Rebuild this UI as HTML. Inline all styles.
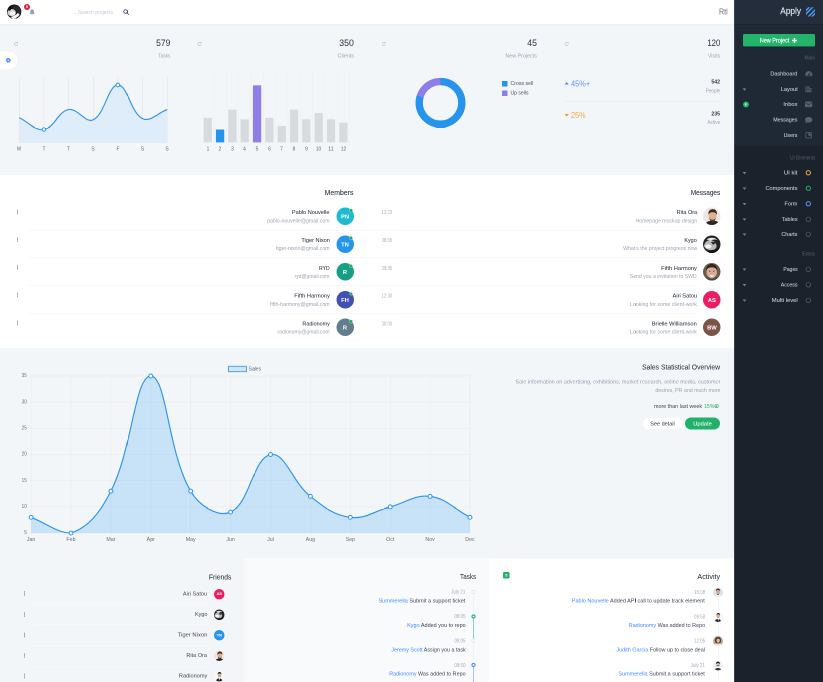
<!DOCTYPE html>
<html lang="en"><head><meta charset="utf-8"><title>Apply - Dashboard</title>
<style>
html,body{margin:0;padding:0;background:#f3f6f9;}
body{width:823px;height:682px;overflow:hidden;font-family:"Liberation Sans",sans-serif;}
#wrap{position:absolute;left:0;top:0;width:1646px;height:1364px;transform:scale(.5);transform-origin:0 0;overflow:hidden;will-change:transform;}
.b{position:absolute;display:block;box-sizing:border-box;}
.t{position:absolute;white-space:nowrap;display:block;}
.t b{font-weight:400;color:#448bff;}
</style></head>
<body><div id="wrap">
<div class="b " style="left:0px;top:0px;width:1468px;height:1364px;background:#f3f6f9;"></div>
<div class="b " style="left:0px;top:350px;width:1468px;height:347px;background:#fff;box-shadow:0 .5px 1px rgba(60,80,110,.05);"></div>
<div class="b " style="left:490px;top:1117px;width:488px;height:260px;background:#f9fafc;border-top:3px solid #fdfdfe;"></div>
<div class="b " style="left:978px;top:1117px;width:490px;height:260px;background:#fff;"></div>
<div class="b " style="left:0px;top:0px;width:1468px;height:48px;background:#fff;box-shadow:0 .5px 1.5px rgba(60,80,110,.10);"></div>
<div class="b " style="left:1468px;top:0px;width:178px;height:1364px;background:#1b222c;"></div>
<div class="b " style="left:1468px;top:0px;width:178px;height:291.20px;background:#1f2835;"></div>
<div class="b " style="left:1468px;top:0px;width:178px;height:48px;background:#232d3c;box-shadow:0 1px 2px rgba(0,0,0,.22);"></div>
<div class="b " style="left:1468px;top:0px;width:2px;height:1364px;background:rgba(255,255,255,.13);"></div>
<svg class="b" style="left:13.80px;top:8.60px;width:28.80px;height:28.80px;" viewBox="0 0 20 20">
<defs><clipPath id="hc"><circle cx="10" cy="10" r="10"/></clipPath></defs>
<g clip-path="url(#hc)"><rect width="20" height="20" fill="#1f1f21"/>
<ellipse cx="6.500" cy="11.200" rx="5.800" ry="5" fill="#cfcfcf"/>
<ellipse cx="7.800" cy="12.500" rx="3.800" ry="2.600" fill="#fafafa"/>
<ellipse cx="4.300" cy="5.200" rx="1.900" ry="3.600" transform="rotate(28 4.300 5.200)" fill="#101010"/>
<path d="M5 17.500C9 16 13.500 14.500 15 11.500L17.500 14C15.500 17.500 11 19.800 8 19.500Z" fill="#f4f4f4"/>
<path d="M9 4C12 2 16 3 18 7C19 10 18 12 17 13C16 9 13 6 9 6Z" fill="#2d2d2f"/>
</g></svg>
<div class="b " style="left:47.80px;top:8px;width:12px;height:12px;background:#e8203f;border-radius:6px;"></div>
<span class="t " id="t1" style="top:9.06px;font-size:7.60px;line-height:9.88px;color:#fff;font-weight:700;left:53.80px;transform:translateX(-50%) scaleX(1.0000);">5</span>
<svg class="b" style="left:58px;top:16.80px;width:12.40px;height:14px;" viewBox="0 0 16 18"><path d="M8 1.2c-.7 0-1.2.5-1.2 1.2v.4C4.6 3.4 3.2 5.3 3.2 7.6v3L1.6 12.8v.9h12.8v-.9L12.8 10.6v-3c0-2.3-1.4-4.2-3.6-4.8v-.4c0-.7-.5-1.2-1.2-1.2zM6.4 14.6c0 .9.7 1.6 1.6 1.6s1.6-.7 1.6-1.6z" fill="#8f9fb4"/></svg>
<span class="t " id="t2" style="top:17.12px;font-size:11.20px;line-height:14.56px;color:#c3c9d4;left:146.80px;transform-origin:0 50%;transform:scaleX(0.9097);">...Search projects</span>
<svg class="b" style="left:246.20px;top:17.80px;width:12.40px;height:12.40px;" viewBox="0 0 16 16"><circle cx="6.5" cy="6.5" r="4.6" fill="none" stroke="#435069" stroke-width="2.200"/><path d="M10.200 10.200 L14.600 14.600" stroke="#46556f" stroke-width="2.300" stroke-linecap="round"/></svg>
<span class="t " id="t3" style="top:12.68px;font-size:16.80px;line-height:21.84px;color:#69737f;left:1437.60px;transform-origin:0 50%;transform:scaleX(0.8481);">Rtl</span>
<span class="t " id="t4" style="top:11.16px;font-size:17.60px;line-height:22.88px;color:#dde3ec;-webkit-text-stroke:0.30px #dde3ec;right:44.20px;transform-origin:100% 50%;transform:scaleX(0.9406);">Apply</span>
<svg class="b" style="left:1611.80px;top:13.60px;width:18.60px;height:19.40px;" viewBox="0 0 20 20"><defs><clipPath id="lg"><rect width="20" height="20"/></clipPath></defs>
<g clip-path="url(#lg)" stroke="#4c9bf5" stroke-width="3.1"><path d="M-2 9 L9 -2"/><path d="M-2 16.5 L16.5 -2"/><path d="M3.5 22 L22 3.5"/><path d="M11 22 L22 11"/></g></svg>
<div class="b " style="left:1485.60px;top:67.60px;width:144.20px;height:25.20px;background:#23b36b;border-radius:2.80px;box-shadow:0 1px 1.5px rgba(0,0,0,.35);"></div>
<span class="t " id="t5" style="top:74.27px;font-size:12.20px;line-height:15.86px;color:#fff;-webkit-text-stroke:0.28px #fff;right:67.60px;transform-origin:100% 50%;transform:scaleX(0.9010);">New Project</span>
<svg class="b" style="left:1584.40px;top:76.20px;width:9.80px;height:9.80px;" viewBox="0 0 12.2 12"><path d="M4.200 0h3.800v4.200H12.200v3.800H8V12.200H4.200V8H0V4.200h4.200z" fill="#fff"/></svg>
<span class="t " id="t6" style="top:108.77px;font-size:10.20px;line-height:13.26px;color:#556071;right:16px;transform-origin:100% 50%;transform:scaleX(0.9595);">Main</span>
<span class="t " id="t7" style="top:139.73px;font-size:11.80px;line-height:15.34px;color:#c6cdd8;-webkit-text-stroke:0.16px #c6cdd8;right:51px;transform-origin:100% 50%;transform:scaleX(0.9356);">Dashboard</span>
<span class="t " id="t8" style="top:170.73px;font-size:11.80px;line-height:15.34px;color:#c6cdd8;-webkit-text-stroke:0.16px #c6cdd8;right:51px;transform-origin:100% 50%;transform:scaleX(0.9599);">Layout</span>
<svg class="b" style="left:1484.60px;top:176.60px;width:8px;height:4.60px;" viewBox="0 0 10 6"><path d="M0 0h10L5 5.800z" fill="#768192"/></svg>
<span class="t " id="t9" style="top:201.33px;font-size:11.80px;line-height:15.34px;color:#c6cdd8;-webkit-text-stroke:0.16px #c6cdd8;right:51px;transform-origin:100% 50%;transform:scaleX(0.9702);">Inbox</span>
<span class="t " id="t10" style="top:232.33px;font-size:11.80px;line-height:15.34px;color:#c6cdd8;-webkit-text-stroke:0.16px #c6cdd8;right:51px;transform-origin:100% 50%;transform:scaleX(0.8999);">Messages</span>
<span class="t " id="t11" style="top:263.13px;font-size:11.80px;line-height:15.34px;color:#c6cdd8;-webkit-text-stroke:0.16px #c6cdd8;right:51px;transform-origin:100% 50%;transform:scaleX(0.8957);">Users</span>
<svg class="b" style="left:1610px;top:141.20px;width:15.20px;height:12.40px;" viewBox="0 0 20 16.5"><path d="M10 1.5C4.8 1.5.6 5.7.6 10.9c0 1.6.4 3.1 1.1 4.4h16.6c.7-1.3 1.1-2.8 1.1-4.4C19.400 5.700 15.200 1.500 10 1.500z" fill="#566173"/><circle cx="10" cy="11" r="2.2" fill="#1f2835"/><path d="M10 11 L14 5" stroke="#1f2835" stroke-width="1.6"/><rect x="3" y="13.8" width="14" height="1.2" fill="#1f2835"/></svg>
<svg class="b" style="left:1610.80px;top:172.20px;width:13.60px;height:12.40px;" viewBox="0 0 18 16"><path d="M0 0h2.2v16H0zM3.6 1h8v3h-8zM3.600 6h14v3h-14zM3.6 11h10.500v3H3.6zM0 14.500h18v1.500H0z" fill="#566173"/></svg>
<svg class="b" style="left:1610.40px;top:203.40px;width:14.40px;height:11.20px;" viewBox="0 0 18 14"><rect width="18" height="14" rx="1.6" fill="#566173"/><path d="M1 2 L9 8.600 L17 2" fill="none" stroke="#1f2835" stroke-width="1.5"/></svg>
<svg class="b" style="left:1610.40px;top:234px;width:14.80px;height:12.40px;" viewBox="0 0 18 15"><path d="M9 0C4 0 0 2.9 0 6.500c0 1.600.8 3 2.100 4.100C1.800 12.200.900 13.600 0 14.500c2.200 0 4-.700 5.300-1.600 1.100.300 2.400.500 3.700.500 5 0 9-2.900 9-6.500S14 0 9 0z" fill="#566173"/></svg>
<svg class="b" style="left:1611.20px;top:264.40px;width:12.80px;height:12.80px;" viewBox="0 0 16 16"><rect x=".9" y=".9" width="14.2" height="14.2" rx="2.4" fill="none" stroke="#566173" stroke-width="1.800"/><path d="M6 3.500h5.500c.9 0 1.500.6 1.500 1.500v5.500c-3.900 0-7-3.100-7-7z" fill="#566173"/></svg>
<div class="b " style="left:1485.60px;top:203px;width:12px;height:12px;background:#22b16a;border-radius:6px;"></div>
<span class="t " id="t12" style="top:204.32px;font-size:7.20px;line-height:9.36px;color:#fff;font-weight:700;left:1491.60px;transform:translateX(-50%) scaleX(1.0000);">6</span>
<span class="t " id="t13" style="top:309.17px;font-size:10.20px;line-height:13.26px;color:#556071;right:16px;transform-origin:100% 50%;transform:scaleX(0.9012);">UI Elements</span>
<span class="t " id="t14" style="top:338.33px;font-size:11.80px;line-height:15.34px;color:#c6cdd8;-webkit-text-stroke:0.16px #c6cdd8;right:51px;transform-origin:100% 50%;transform:scaleX(1.0121);">UI kit</span>
<svg class="b" style="left:1484.60px;top:344.20px;width:8px;height:4.60px;" viewBox="0 0 10 6"><path d="M0 0h10L5 5.800z" fill="#768192"/></svg>
<svg class="b" style="left:1610.40px;top:339.40px;width:13.20px;height:13.20px;" viewBox="0 0 10 10"><circle cx="5" cy="5" r="3.25" fill="none" stroke="#f3ae2d" stroke-width="1.5"/></svg>
<span class="t " id="t15" style="top:369.33px;font-size:11.80px;line-height:15.34px;color:#c6cdd8;-webkit-text-stroke:0.16px #c6cdd8;right:51px;transform-origin:100% 50%;transform:scaleX(0.9568);">Components</span>
<svg class="b" style="left:1484.60px;top:375.20px;width:8px;height:4.60px;" viewBox="0 0 10 6"><path d="M0 0h10L5 5.800z" fill="#768192"/></svg>
<svg class="b" style="left:1610.40px;top:370.40px;width:13.20px;height:13.20px;" viewBox="0 0 10 10"><circle cx="5" cy="5" r="3.25" fill="none" stroke="#22b16a" stroke-width="1.5"/></svg>
<span class="t " id="t16" style="top:400.13px;font-size:11.80px;line-height:15.34px;color:#c6cdd8;-webkit-text-stroke:0.16px #c6cdd8;right:51px;transform-origin:100% 50%;transform:scaleX(0.9299);">Form</span>
<svg class="b" style="left:1484.60px;top:406px;width:8px;height:4.60px;" viewBox="0 0 10 6"><path d="M0 0h10L5 5.800z" fill="#768192"/></svg>
<svg class="b" style="left:1610.40px;top:401.20px;width:13.20px;height:13.20px;" viewBox="0 0 10 10"><circle cx="5" cy="5" r="3.25" fill="none" stroke="#5a9cf8" stroke-width="1.5"/></svg>
<span class="t " id="t17" style="top:430.73px;font-size:11.80px;line-height:15.34px;color:#c6cdd8;-webkit-text-stroke:0.16px #c6cdd8;right:51px;transform-origin:100% 50%;transform:scaleX(0.9264);">Tables</span>
<svg class="b" style="left:1484.60px;top:436.60px;width:8px;height:4.60px;" viewBox="0 0 10 6"><path d="M0 0h10L5 5.800z" fill="#768192"/></svg>
<svg class="b" style="left:1610.40px;top:431.80px;width:13.20px;height:13.20px;" viewBox="0 0 10 10"><circle cx="5" cy="5" r="3.4" fill="none" stroke="#586273" stroke-width="1.1"/></svg>
<span class="t " id="t18" style="top:461.33px;font-size:11.80px;line-height:15.34px;color:#c6cdd8;-webkit-text-stroke:0.16px #c6cdd8;right:51px;transform-origin:100% 50%;transform:scaleX(0.9209);">Charts</span>
<svg class="b" style="left:1484.60px;top:467.20px;width:8px;height:4.60px;" viewBox="0 0 10 6"><path d="M0 0h10L5 5.800z" fill="#768192"/></svg>
<svg class="b" style="left:1610.40px;top:462.40px;width:13.20px;height:13.20px;" viewBox="0 0 10 10"><circle cx="5" cy="5" r="3.4" fill="none" stroke="#586273" stroke-width="1.1"/></svg>
<span class="t " id="t19" style="top:501.37px;font-size:10.20px;line-height:13.26px;color:#556071;right:16px;transform-origin:100% 50%;transform:scaleX(0.8727);">Extras</span>
<span class="t " id="t20" style="top:530.93px;font-size:11.80px;line-height:15.34px;color:#c6cdd8;-webkit-text-stroke:0.16px #c6cdd8;right:51px;transform-origin:100% 50%;transform:scaleX(0.8609);">Pages</span>
<svg class="b" style="left:1484.60px;top:536.80px;width:8px;height:4.60px;" viewBox="0 0 10 6"><path d="M0 0h10L5 5.800z" fill="#768192"/></svg>
<svg class="b" style="left:1610.40px;top:532px;width:13.20px;height:13.20px;" viewBox="0 0 10 10"><circle cx="5" cy="5" r="3.4" fill="none" stroke="#586273" stroke-width="1.1"/></svg>
<span class="t " id="t21" style="top:562.13px;font-size:11.80px;line-height:15.34px;color:#c6cdd8;-webkit-text-stroke:0.16px #c6cdd8;right:51px;transform-origin:100% 50%;transform:scaleX(0.8835);">Access</span>
<svg class="b" style="left:1484.60px;top:568px;width:8px;height:4.60px;" viewBox="0 0 10 6"><path d="M0 0h10L5 5.800z" fill="#768192"/></svg>
<svg class="b" style="left:1610.40px;top:563.20px;width:13.20px;height:13.20px;" viewBox="0 0 10 10"><circle cx="5" cy="5" r="3.4" fill="none" stroke="#586273" stroke-width="1.1"/></svg>
<span class="t " id="t22" style="top:592.73px;font-size:11.80px;line-height:15.34px;color:#c6cdd8;-webkit-text-stroke:0.16px #c6cdd8;right:51px;transform-origin:100% 50%;transform:scaleX(0.9914);">Multi level</span>
<svg class="b" style="left:1484.60px;top:598.60px;width:8px;height:4.60px;" viewBox="0 0 10 6"><path d="M0 0h10L5 5.800z" fill="#768192"/></svg>
<svg class="b" style="left:1610.40px;top:593.80px;width:13.20px;height:13.20px;" viewBox="0 0 10 10"><circle cx="5" cy="5" r="3.4" fill="none" stroke="#586273" stroke-width="1.1"/></svg>
<svg class="b" style="left:27.10px;top:83.10px;width:9.80px;height:9.80px;" viewBox="0 0 16 16"><path d="M13.200 5.200A5.600 5.600 0 1 0 14 10" fill="none" stroke="#9aa3b0" stroke-width="1.500"/><path d="M10.200 5.800h4.300V1.500z" fill="#9aa3b0"/></svg>
<svg class="b" style="left:393.50px;top:83.10px;width:9.80px;height:9.80px;" viewBox="0 0 16 16"><path d="M13.200 5.200A5.600 5.600 0 1 0 14 10" fill="none" stroke="#9aa3b0" stroke-width="1.500"/><path d="M10.200 5.800h4.300V1.500z" fill="#9aa3b0"/></svg>
<svg class="b" style="left:761.50px;top:83.10px;width:9.80px;height:9.80px;" viewBox="0 0 16 16"><path d="M13.200 5.200A5.600 5.600 0 1 0 14 10" fill="none" stroke="#9aa3b0" stroke-width="1.500"/><path d="M10.200 5.800h4.300V1.500z" fill="#9aa3b0"/></svg>
<svg class="b" style="left:1128.30px;top:83.10px;width:9.80px;height:9.80px;" viewBox="0 0 16 16"><path d="M13.200 5.200A5.600 5.600 0 1 0 14 10" fill="none" stroke="#9aa3b0" stroke-width="1.500"/><path d="M10.200 5.800h4.300V1.500z" fill="#9aa3b0"/></svg>
<span class="t " id="t23" style="top:74.93px;font-size:17.80px;line-height:23.14px;color:#333b48;-webkit-text-stroke:0.08px #333b48;right:1305.80px;transform-origin:100% 50%;transform:scaleX(0.9571);">579</span>
<span class="t " id="t24" style="top:103.58px;font-size:10.80px;line-height:14.04px;color:#9ca4b2;right:1305.80px;transform-origin:100% 50%;transform:scaleX(0.8693);">Tasks</span>
<span class="t " id="t25" style="top:74.93px;font-size:17.80px;line-height:23.14px;color:#333b48;-webkit-text-stroke:0.08px #333b48;right:938.40px;transform-origin:100% 50%;transform:scaleX(0.9841);">350</span>
<span class="t " id="t26" style="top:103.58px;font-size:10.80px;line-height:14.04px;color:#9ca4b2;right:938.40px;transform-origin:100% 50%;transform:scaleX(0.9935);">Clients</span>
<span class="t " id="t27" style="top:74.93px;font-size:17.80px;line-height:23.14px;color:#333b48;-webkit-text-stroke:0.08px #333b48;right:572px;transform-origin:100% 50%;transform:scaleX(0.9706);">45</span>
<span class="t " id="t28" style="top:103.58px;font-size:10.80px;line-height:14.04px;color:#9ca4b2;right:572px;transform-origin:100% 50%;transform:scaleX(0.9873);">New Projects</span>
<span class="t " id="t29" style="top:74.93px;font-size:17.80px;line-height:23.14px;color:#333b48;-webkit-text-stroke:0.08px #333b48;right:205.80px;transform-origin:100% 50%;transform:scaleX(0.8762);">120</span>
<span class="t " id="t30" style="top:103.58px;font-size:10.80px;line-height:14.04px;color:#9ca4b2;right:205.80px;transform-origin:100% 50%;transform:scaleX(0.9684);">Visits</span>
<div class="b " style="left:-10px;top:103.20px;width:45px;height:34.80px;background:#fff;border-radius:17.40px;box-shadow:0 0 2px rgba(60,80,110,.06);"></div>
<svg class="b" style="left:11.40px;top:115.20px;width:11.20px;height:11.20px;" viewBox="0 0 20 20"><circle cx="10" cy="10" r="6.700" fill="#3d8ef8"/><circle cx="10" cy="10" r="7.600" fill="none" stroke="#3d8ef8" stroke-width="2.400" stroke-dasharray="3.400 2.570"/><circle cx="10" cy="10" r="2.600" fill="#fff"/></svg>
<svg class="b" style="left:0px;top:140px;width:380px;height:160px;" viewBox="0 70 190 80"><path d="M19.20 76.8V143.0" stroke="#dde2e8" stroke-width=".5"/><path d="M43.87 76.8V143.0" stroke="#dde2e8" stroke-width=".5"/><path d="M68.54 76.8V143.0" stroke="#dde2e8" stroke-width=".5"/><path d="M93.21 76.8V143.0" stroke="#dde2e8" stroke-width=".5"/><path d="M117.88 76.8V143.0" stroke="#dde2e8" stroke-width=".5"/><path d="M142.55 76.8V143.0" stroke="#dde2e8" stroke-width=".5"/><path d="M167.22 76.8V143.0" stroke="#dde2e8" stroke-width=".5"/><path d="M19.20,117.60 C29.07,122.36 34.72,130.98 43.87,129.50 C54.46,127.78 57.83,111.71 68.54,109.60 C77.56,107.83 85.61,123.59 93.21,119.80 C105.35,113.75 107.90,85.24 117.88,85.00 C127.63,84.76 130.44,112.56 142.55,118.60 C150.18,122.40 157.35,113.20 167.22,109.60 L167.22,143.0 L19.20,143.0Z" fill="#dcebf8" fill-opacity=".92"/><path d="M19.20,117.60 C29.07,122.36 34.72,130.98 43.87,129.50 C54.46,127.78 57.83,111.71 68.54,109.60 C77.56,107.83 85.61,123.59 93.21,119.80 C105.35,113.75 107.90,85.24 117.88,85.00 C127.63,84.76 130.44,112.56 142.55,118.60 C150.18,122.40 157.35,113.20 167.22,109.60" fill="none" stroke="#3295ec" stroke-width="1.150"/><circle cx="43.87" cy="129.50" r="1.800" fill="#fff" stroke="#3295ec" stroke-width="1.050"/><circle cx="117.88" cy="85.00" r="1.800" fill="#fff" stroke="#3295ec" stroke-width="1.050"/></svg>
<span class="t " id="t31" style="top:289.99px;font-size:11.40px;line-height:14.82px;color:#5c636e;left:38.40px;transform:translateX(-50%) scaleX(0.8211);">M</span>
<span class="t " id="t32" style="top:289.99px;font-size:11.40px;line-height:14.82px;color:#5c636e;left:87.74px;transform:translateX(-50%) scaleX(0.8610);">T</span>
<span class="t " id="t33" style="top:289.99px;font-size:11.40px;line-height:14.82px;color:#5c636e;left:137.08px;transform:translateX(-50%) scaleX(0.8610);">T</span>
<span class="t " id="t34" style="top:289.99px;font-size:11.40px;line-height:14.82px;color:#5c636e;left:186.42px;transform:translateX(-50%) scaleX(0.8674);">S</span>
<span class="t " id="t35" style="top:289.99px;font-size:11.40px;line-height:14.82px;color:#5c636e;left:235.76px;transform:translateX(-50%) scaleX(0.8323);">F</span>
<span class="t " id="t36" style="top:289.99px;font-size:11.40px;line-height:14.82px;color:#5c636e;left:285.10px;transform:translateX(-50%) scaleX(0.8674);">S</span>
<span class="t " id="t37" style="top:289.99px;font-size:11.40px;line-height:14.82px;color:#5c636e;left:334.44px;transform:translateX(-50%) scaleX(0.8674);">S</span>
<svg class="b" style="left:390px;top:140px;width:340px;height:150px;" viewBox="195 70 170 75"><path d="M213.93 72V142.4" stroke="#e9ecf0" stroke-width=".4"/><path d="M226.26 72V142.4" stroke="#e9ecf0" stroke-width=".4"/><path d="M238.59 72V142.4" stroke="#e9ecf0" stroke-width=".4"/><path d="M250.92 72V142.4" stroke="#e9ecf0" stroke-width=".4"/><path d="M263.25 72V142.4" stroke="#e9ecf0" stroke-width=".4"/><path d="M275.58 72V142.4" stroke="#e9ecf0" stroke-width=".4"/><path d="M287.91 72V142.4" stroke="#e9ecf0" stroke-width=".4"/><path d="M300.24 72V142.4" stroke="#e9ecf0" stroke-width=".4"/><path d="M312.57 72V142.4" stroke="#e9ecf0" stroke-width=".4"/><path d="M324.90 72V142.4" stroke="#e9ecf0" stroke-width=".4"/><path d="M337.23 72V142.4" stroke="#e9ecf0" stroke-width=".4"/><path d="M349.56 72V142.4" stroke="#e9ecf0" stroke-width=".4"/><rect x="203.60" y="117.8" width="8.300" height="24.60" fill="#d8dbde"/><rect x="215.93" y="129.5" width="8.300" height="12.90" fill="#2594ec"/><rect x="228.26" y="109.6" width="8.300" height="32.80" fill="#d8dbde"/><rect x="240.59" y="119.3" width="8.300" height="23.10" fill="#d8dbde"/><rect x="252.92" y="85.3" width="8.300" height="57.10" fill="#8f7ee7"/><rect x="265.25" y="117.8" width="8.300" height="24.60" fill="#d8dbde"/><rect x="277.58" y="125.9" width="8.300" height="16.50" fill="#d8dbde"/><rect x="289.91" y="109.6" width="8.300" height="32.80" fill="#d8dbde"/><rect x="302.24" y="119.3" width="8.300" height="23.10" fill="#d8dbde"/><rect x="314.57" y="113.0" width="8.300" height="29.40" fill="#d8dbde"/><rect x="326.90" y="119.3" width="8.300" height="23.10" fill="#d8dbde"/><rect x="339.23" y="122.7" width="8.300" height="19.70" fill="#d8dbde"/></svg>
<span class="t " id="t38" style="top:289.99px;font-size:11.40px;line-height:14.82px;color:#5c636e;left:415.50px;transform:translateX(-50%) scaleX(0.8512);">1</span>
<span class="t " id="t39" style="top:289.99px;font-size:11.40px;line-height:14.82px;color:#5c636e;left:440.16px;transform:translateX(-50%) scaleX(0.8512);">2</span>
<span class="t " id="t40" style="top:289.99px;font-size:11.40px;line-height:14.82px;color:#5c636e;left:464.82px;transform:translateX(-50%) scaleX(0.8512);">3</span>
<span class="t " id="t41" style="top:289.99px;font-size:11.40px;line-height:14.82px;color:#5c636e;left:489.48px;transform:translateX(-50%) scaleX(0.8512);">4</span>
<span class="t " id="t42" style="top:289.99px;font-size:11.40px;line-height:14.82px;color:#5c636e;left:514.14px;transform:translateX(-50%) scaleX(0.8512);">5</span>
<span class="t " id="t43" style="top:289.99px;font-size:11.40px;line-height:14.82px;color:#5c636e;left:538.80px;transform:translateX(-50%) scaleX(0.8512);">6</span>
<span class="t " id="t44" style="top:289.99px;font-size:11.40px;line-height:14.82px;color:#5c636e;left:563.46px;transform:translateX(-50%) scaleX(0.8512);">7</span>
<span class="t " id="t45" style="top:289.99px;font-size:11.40px;line-height:14.82px;color:#5c636e;left:588.12px;transform:translateX(-50%) scaleX(0.8512);">8</span>
<span class="t " id="t46" style="top:289.99px;font-size:11.40px;line-height:14.82px;color:#5c636e;left:612.78px;transform:translateX(-50%) scaleX(0.8512);">9</span>
<span class="t " id="t47" style="top:289.99px;font-size:11.40px;line-height:14.82px;color:#5c636e;left:637.44px;transform:translateX(-50%) scaleX(0.8523);">10</span>
<span class="t " id="t48" style="top:289.99px;font-size:11.40px;line-height:14.82px;color:#5c636e;left:662.10px;transform:translateX(-50%) scaleX(0.9131);">11</span>
<span class="t " id="t49" style="top:289.99px;font-size:11.40px;line-height:14.82px;color:#5c636e;left:686.76px;transform:translateX(-50%) scaleX(0.8523);">12</span>
<svg class="b" style="left:820px;top:144px;width:124px;height:124px;" viewBox="410 72 62 62"><circle cx="440.5" cy="102.8" r="21.299999999999997" fill="none" stroke="#8f7ee7" stroke-width="7.20"/><circle cx="440.5" cy="102.8" r="21.299999999999997" fill="none" stroke="#2594ec" stroke-width="7.20" stroke-dasharray="106.40 133.83" transform="rotate(-90 440.5 102.8)"/></svg>
<div class="b " style="left:1004.40px;top:162.40px;width:10.80px;height:10.80px;background:#2594ec;"></div>
<div class="b " style="left:1004.40px;top:181.20px;width:10.80px;height:10.80px;background:#8f7ee7;"></div>
<span class="t " id="t50" style="top:160.31px;font-size:10.60px;line-height:13.78px;color:#4a5361;left:1020.60px;transform-origin:0 50%;transform:scaleX(0.9803);">Cross sell</span>
<span class="t " id="t51" style="top:179.31px;font-size:10.60px;line-height:13.78px;color:#4a5361;left:1020.60px;transform-origin:0 50%;transform:scaleX(0.9552);">Up sells</span>
<svg class="b" style="left:1129px;top:164px;width:8.80px;height:5.40px;" viewBox="0 0 10 6"><path d="M0 6h10L5 0z" fill="#448bff"/></svg>
<span class="t " id="t52" style="top:156.02px;font-size:17.20px;line-height:22.36px;color:#5b98fb;left:1142.40px;transform-origin:0 50%;transform:scaleX(0.8641);">45%+</span>
<svg class="b" style="left:1129px;top:228px;width:8.80px;height:5.40px;" viewBox="0 0 10 6"><path d="M0 0h10L5 6z" fill="#f49a2a"/></svg>
<span class="t " id="t53" style="top:219.42px;font-size:17.20px;line-height:22.36px;color:#f5a747;left:1142.40px;transform-origin:0 50%;transform:scaleX(0.8487);">25%</span>
<div class="b " style="left:1129.20px;top:202.60px;width:311.20px;height:1px;background:#e3e7ec;"></div>
<span class="t " id="t54" style="top:156.18px;font-size:10.80px;line-height:14.04px;color:#2f3744;font-weight:700;right:205.80px;transform-origin:100% 50%;transform:scaleX(0.9547);">542</span>
<span class="t " id="t55" style="top:175.24px;font-size:10.40px;line-height:13.52px;color:#9ca4b2;right:205.80px;transform-origin:100% 50%;transform:scaleX(0.8900);">People</span>
<span class="t " id="t56" style="top:219.98px;font-size:10.80px;line-height:14.04px;color:#2f3744;font-weight:700;right:205.80px;transform-origin:100% 50%;transform:scaleX(0.9547);">235</span>
<span class="t " id="t57" style="top:237.64px;font-size:10.40px;line-height:13.52px;color:#9ca4b2;right:205.80px;transform-origin:100% 50%;transform:scaleX(0.8906);">Active</span>
<span class="t " id="t58" style="top:375.51px;font-size:14.60px;line-height:18.98px;color:#2f3744;-webkit-text-stroke:0.20px #2f3744;right:938.80px;transform-origin:100% 50%;transform:scaleX(0.9469);">Members</span>
<span class="t " id="t59" style="top:375.51px;font-size:14.60px;line-height:18.98px;color:#2f3744;-webkit-text-stroke:0.20px #2f3744;right:205.60px;transform-origin:100% 50%;transform:scaleX(0.8870);">Messages</span>
<div class="b " style="left:672.50px;top:414.90px;width:35px;height:35px;background:#1ebad2;border-radius:17.50px;"></div>
<span class="t " id="t60" style="top:425.06px;font-size:11.60px;line-height:15.08px;color:#fff;font-weight:700;left:690px;transform:translateX(-50%) scaleX(1.0000);">PN</span>
<div class="b " style="left:699px;top:417.80px;width:5.80px;height:5.80px;background:#1faf4c;border-radius:2.90px;box-shadow:0 0 0 .5px #fff;"></div>
<span class="t " id="t61" style="top:416.46px;font-size:11.60px;line-height:15.08px;color:#2b3340;-webkit-text-stroke:0.08px #2b3340;right:986.60px;transform-origin:100% 50%;transform:scaleX(0.9641);">Pablo Nouvelle</span>
<span class="t " id="t62" style="top:434.77px;font-size:10.20px;line-height:13.26px;color:#9ca4b2;right:986.60px;transform-origin:100% 50%;transform:scaleX(1.0144);">pablo-nouvelle@gmail.com</span>
<span class="t " id="t63" style="top:418.30px;font-size:10px;line-height:13px;color:#a6aebb;left:762.80px;transform-origin:0 50%;transform:scaleX(0.8629);">13:23</span>
<svg class="b" style="left:33.60px;top:418.60px;width:2.80px;height:10px;" viewBox="0 0 1.4 5"><rect x=".2" y=".1" width="1" height="1.400" rx=".4" fill="#828b99"/><rect x=".2" y="1.800" width="1" height="1.400" rx=".4" fill="#828b99"/><rect x=".2" y="3.500" width="1" height="1.400" rx=".4" fill="#828b99"/></svg>
<div class="b " style="left:56px;top:459.80px;width:744px;height:1.10px;background:#f1f3f6;"></div>
<div class="b " style="left:672.50px;top:470.50px;width:35px;height:35px;background:#2594ec;border-radius:17.50px;"></div>
<span class="t " id="t64" style="top:480.66px;font-size:11.60px;line-height:15.08px;color:#fff;font-weight:700;left:690px;transform:translateX(-50%) scaleX(1.0000);">TN</span>
<div class="b " style="left:699px;top:473.40px;width:5.80px;height:5.80px;background:#1faf4c;border-radius:2.90px;box-shadow:0 0 0 .5px #fff;"></div>
<span class="t " id="t65" style="top:472.06px;font-size:11.60px;line-height:15.08px;color:#2b3340;-webkit-text-stroke:0.08px #2b3340;right:986.60px;transform-origin:100% 50%;transform:scaleX(0.9718);">Tiger Nixon</span>
<span class="t " id="t66" style="top:490.37px;font-size:10.20px;line-height:13.26px;color:#9ca4b2;right:986.60px;transform-origin:100% 50%;transform:scaleX(1.0275);">tiger-nixon@gmail.com</span>
<span class="t " id="t67" style="top:473.90px;font-size:10px;line-height:13px;color:#a6aebb;left:762.80px;transform-origin:0 50%;transform:scaleX(0.8629);">08:05</span>
<svg class="b" style="left:33.60px;top:474.20px;width:2.80px;height:10px;" viewBox="0 0 1.4 5"><rect x=".2" y=".1" width="1" height="1.400" rx=".4" fill="#828b99"/><rect x=".2" y="1.800" width="1" height="1.400" rx=".4" fill="#828b99"/><rect x=".2" y="3.500" width="1" height="1.400" rx=".4" fill="#828b99"/></svg>
<div class="b " style="left:56px;top:515.40px;width:744px;height:1.10px;background:#f1f3f6;"></div>
<div class="b " style="left:672.50px;top:526.10px;width:35px;height:35px;background:#169f85;border-radius:17.50px;"></div>
<span class="t " id="t68" style="top:536.26px;font-size:11.60px;line-height:15.08px;color:#fff;font-weight:700;left:690px;transform:translateX(-50%) scaleX(1.0000);">R</span>
<div class="b " style="left:699px;top:529px;width:5.80px;height:5.80px;background:#1faf4c;border-radius:2.90px;box-shadow:0 0 0 .5px #fff;"></div>
<span class="t " id="t69" style="top:527.66px;font-size:11.60px;line-height:15.08px;color:#2b3340;-webkit-text-stroke:0.08px #2b3340;right:986.60px;transform-origin:100% 50%;transform:scaleX(0.8731);">RYD</span>
<span class="t " id="t70" style="top:545.97px;font-size:10.20px;line-height:13.26px;color:#9ca4b2;right:986.60px;transform-origin:100% 50%;transform:scaleX(0.9870);">ryd@gmail.com</span>
<span class="t " id="t71" style="top:529.50px;font-size:10px;line-height:13px;color:#a6aebb;left:762.80px;transform-origin:0 50%;transform:scaleX(0.8629);">09:35</span>
<svg class="b" style="left:33.60px;top:529.80px;width:2.80px;height:10px;" viewBox="0 0 1.4 5"><rect x=".2" y=".1" width="1" height="1.400" rx=".4" fill="#828b99"/><rect x=".2" y="1.800" width="1" height="1.400" rx=".4" fill="#828b99"/><rect x=".2" y="3.500" width="1" height="1.400" rx=".4" fill="#828b99"/></svg>
<div class="b " style="left:56px;top:571px;width:744px;height:1.10px;background:#f1f3f6;"></div>
<div class="b " style="left:672.50px;top:581.70px;width:35px;height:35px;background:#4150b5;border-radius:17.50px;"></div>
<span class="t " id="t72" style="top:591.86px;font-size:11.60px;line-height:15.08px;color:#fff;font-weight:700;left:690px;transform:translateX(-50%) scaleX(1.0000);">FH</span>
<div class="b " style="left:699px;top:584.60px;width:5.80px;height:5.80px;background:#1faf4c;border-radius:2.90px;box-shadow:0 0 0 .5px #fff;"></div>
<span class="t " id="t73" style="top:583.26px;font-size:11.60px;line-height:15.08px;color:#2b3340;-webkit-text-stroke:0.08px #2b3340;right:986.60px;transform-origin:100% 50%;transform:scaleX(0.9779);">Fifth Harmony</span>
<span class="t " id="t74" style="top:601.57px;font-size:10.20px;line-height:13.26px;color:#9ca4b2;right:986.60px;transform-origin:100% 50%;transform:scaleX(1.0256);">fifth-harmony@gmail.com</span>
<span class="t " id="t75" style="top:585.10px;font-size:10px;line-height:13px;color:#a6aebb;left:762.80px;transform-origin:0 50%;transform:scaleX(0.8629);">12:30</span>
<svg class="b" style="left:33.60px;top:585.40px;width:2.80px;height:10px;" viewBox="0 0 1.4 5"><rect x=".2" y=".1" width="1" height="1.400" rx=".4" fill="#828b99"/><rect x=".2" y="1.800" width="1" height="1.400" rx=".4" fill="#828b99"/><rect x=".2" y="3.500" width="1" height="1.400" rx=".4" fill="#828b99"/></svg>
<div class="b " style="left:56px;top:626.60px;width:744px;height:1.10px;background:#f1f3f6;"></div>
<div class="b " style="left:672.50px;top:637.30px;width:35px;height:35px;background:#627d8b;border-radius:17.50px;"></div>
<span class="t " id="t76" style="top:647.46px;font-size:11.60px;line-height:15.08px;color:#fff;font-weight:700;left:690px;transform:translateX(-50%) scaleX(1.0000);">R</span>
<div class="b " style="left:699px;top:640.20px;width:5.80px;height:5.80px;background:#1faf4c;border-radius:2.90px;box-shadow:0 0 0 .5px #fff;"></div>
<span class="t " id="t77" style="top:638.86px;font-size:11.60px;line-height:15.08px;color:#2b3340;-webkit-text-stroke:0.08px #2b3340;right:986.60px;transform-origin:100% 50%;transform:scaleX(0.9343);">Radionomy</span>
<span class="t " id="t78" style="top:657.17px;font-size:10.20px;line-height:13.26px;color:#9ca4b2;right:986.60px;transform-origin:100% 50%;transform:scaleX(1.0007);">radionomy@gmail.com</span>
<span class="t " id="t79" style="top:640.70px;font-size:10px;line-height:13px;color:#a6aebb;left:762.80px;transform-origin:0 50%;transform:scaleX(0.8629);">00:00</span>
<svg class="b" style="left:33.60px;top:641px;width:2.80px;height:10px;" viewBox="0 0 1.4 5"><rect x=".2" y=".1" width="1" height="1.400" rx=".4" fill="#828b99"/><rect x=".2" y="1.800" width="1" height="1.400" rx=".4" fill="#828b99"/><rect x=".2" y="3.500" width="1" height="1.400" rx=".4" fill="#828b99"/></svg>
<svg class="b" style="left:1406.30px;top:414.90px;width:35px;height:35px;" viewBox="0 0 20 20"><defs><clipPath id="c71192162"><circle cx="10" cy="10" r="10"/></clipPath></defs><g clip-path="url(#c71192162)"><rect width="20" height="20" fill="#eee6e0"/><path d="M3 20c0-3.500 3-4.800 8-4.800s7.500 1.300 7.500 4.800z" fill="#26262a"/><ellipse cx="11" cy="9.500" rx="4.500" ry="5.600" fill="#ddb095"/><path d="M6.300 8.500c-.700-4.600 2-6.600 4.900-6.600 3.300 0 5.300 2.400 4.600 6.600-.8-2.300-2.100-3.100-4.700-3.100S7 6.200 6.300 8.500z" fill="#3f2c22"/><path d="M7.200 11.500c1.100 3.200 6.300 3.200 7.400 0-.5 3.600-1.900 4.700-3.700 4.700S7.700 15.100 7.200 11.500z" fill="#5d4032"/></g></svg>
<span class="t " id="t80" style="top:416.46px;font-size:11.60px;line-height:15.08px;color:#2b3340;-webkit-text-stroke:0.08px #2b3340;right:252.20px;transform-origin:100% 50%;transform:scaleX(0.9451);">Rita Ora</span>
<span class="t " id="t81" style="top:434.77px;font-size:10.20px;line-height:13.26px;color:#9ca4b2;right:252.20px;transform-origin:100% 50%;transform:scaleX(1.0165);">Homepage mockup design</span>
<div class="b " style="left:800px;top:459.80px;width:594px;height:1.10px;background:#f4f5f7;"></div>
<svg class="b" style="left:1406.30px;top:470.50px;width:35px;height:35px;" viewBox="0 0 20 20"><defs><clipPath id="c71192440"><circle cx="10" cy="10" r="10"/></clipPath></defs><g clip-path="url(#c71192440)"><rect width="20" height="20" fill="#242426"/><path d="M1 12C2 7 6 4.500 10 5.500c3 .8 5 3 5.500 6 .3 2.500-1.500 4.500-4.500 5-4 .600-8-.500-10-4.500z" fill="#b9b9b9"/><ellipse cx="6" cy="12.500" rx="3.600" ry="2.400" fill="#f3f3f3"/><path d="M4 4.500C7 2 13 1.500 16.500 5c-3-.800-6-.500-8 1.200C7 5 5.500 4.600 4 4.500z" fill="#e8e8e8"/><path d="M9 8c2-1.500 4.500-1 6 1-1.500 0-2.500.5-3.500 2C11 9.500 10 8.500 9 8z" fill="#2a2a2a"/><path d="M6 18.500c3-1 8-1.500 12-4.500v6H6z" fill="#111"/></g></svg>
<span class="t " id="t82" style="top:472.06px;font-size:11.60px;line-height:15.08px;color:#2b3340;-webkit-text-stroke:0.08px #2b3340;right:252.20px;transform-origin:100% 50%;transform:scaleX(0.9381);">Kygo</span>
<span class="t " id="t83" style="top:490.37px;font-size:10.20px;line-height:13.26px;color:#9ca4b2;right:252.20px;transform-origin:100% 50%;transform:scaleX(1.0193);">What's the project progress now</span>
<div class="b " style="left:800px;top:515.40px;width:594px;height:1.10px;background:#f4f5f7;"></div>
<svg class="b" style="left:1406.30px;top:526.10px;width:35px;height:35px;" viewBox="0 0 20 20"><defs><clipPath id="c71192718"><circle cx="10" cy="10" r="10"/></clipPath></defs><g clip-path="url(#c71192718)"><rect width="20" height="20" fill="#6a5a50"/><path d="M0 20c0-3 3-4.200 10-4.200s10 1.200 10 4.200z" fill="#4a4d52"/><ellipse cx="10" cy="10.500" rx="6" ry="7" fill="#d9ab90"/><path d="M3.800 9C3.200 3.800 6.500 1.200 10 1.200c3.900 0 6.800 2.600 6.200 7.800-.8-2.800-2.600-4-6.200-4S4.600 6.200 3.800 9z" fill="#33261f"/><path d="M7.300 13.300c1.400 1.200 4 1.200 5.400 0-.5 1.800-1.600 2.500-2.700 2.500s-2.200-.7-2.700-2.500z" fill="#fff"/><ellipse cx="7.600" cy="9.300" rx=".8" ry=".5" fill="#3a2a22"/><ellipse cx="12.400" cy="9.300" rx=".8" ry=".5" fill="#3a2a22"/></g></svg>
<span class="t " id="t84" style="top:527.66px;font-size:11.60px;line-height:15.08px;color:#2b3340;-webkit-text-stroke:0.08px #2b3340;right:252.20px;transform-origin:100% 50%;transform:scaleX(0.9833);">Fifth Harmony</span>
<span class="t " id="t85" style="top:545.97px;font-size:10.20px;line-height:13.26px;color:#9ca4b2;right:252.20px;transform-origin:100% 50%;transform:scaleX(1.0112);">Send you a invitation to SWD</span>
<div class="b " style="left:800px;top:571px;width:594px;height:1.10px;background:#f4f5f7;"></div>
<div class="b " style="left:1406.30px;top:581.70px;width:35px;height:35px;background:#e91e63;border-radius:17.50px;"></div>
<span class="t " id="t86" style="top:591.86px;font-size:11.60px;line-height:15.08px;color:#fff;font-weight:700;left:1423.80px;transform:translateX(-50%) scaleX(1.0000);">AS</span>
<span class="t " id="t87" style="top:583.26px;font-size:11.60px;line-height:15.08px;color:#2b3340;-webkit-text-stroke:0.08px #2b3340;right:252.20px;transform-origin:100% 50%;transform:scaleX(0.9788);">Airi Satou</span>
<span class="t " id="t88" style="top:601.57px;font-size:10.20px;line-height:13.26px;color:#9ca4b2;right:252.20px;transform-origin:100% 50%;transform:scaleX(1.0318);">Looking for some client-work</span>
<div class="b " style="left:800px;top:626.60px;width:594px;height:1.10px;background:#f4f5f7;"></div>
<div class="b " style="left:1406.30px;top:637.30px;width:35px;height:35px;background:#7b5648;border-radius:17.50px;"></div>
<span class="t " id="t89" style="top:647.46px;font-size:11.60px;line-height:15.08px;color:#fff;font-weight:700;left:1423.80px;transform:translateX(-50%) scaleX(1.0000);">BW</span>
<span class="t " id="t90" style="top:638.86px;font-size:11.60px;line-height:15.08px;color:#2b3340;-webkit-text-stroke:0.08px #2b3340;right:252.20px;transform-origin:100% 50%;transform:scaleX(0.9838);">Brielle Williamson</span>
<span class="t " id="t91" style="top:657.17px;font-size:10.20px;line-height:13.26px;color:#9ca4b2;right:252.20px;transform-origin:100% 50%;transform:scaleX(1.0318);">Looking for some client-work</span>
<svg class="b" style="left:0px;top:710px;width:960px;height:380px;" viewBox="0 355 480 190"><path d="M31.10 375.50V535.02" stroke="#e4e8ed" stroke-width=".5"/><path d="M71.00 375.50V535.02" stroke="#e4e8ed" stroke-width=".5"/><path d="M110.90 375.50V535.02" stroke="#e4e8ed" stroke-width=".5"/><path d="M150.80 375.50V535.02" stroke="#e4e8ed" stroke-width=".5"/><path d="M190.70 375.50V535.02" stroke="#e4e8ed" stroke-width=".5"/><path d="M230.60 375.50V535.02" stroke="#e4e8ed" stroke-width=".5"/><path d="M270.50 375.50V535.02" stroke="#e4e8ed" stroke-width=".5"/><path d="M310.40 375.50V535.02" stroke="#e4e8ed" stroke-width=".5"/><path d="M350.30 375.50V535.02" stroke="#e4e8ed" stroke-width=".5"/><path d="M390.20 375.50V535.02" stroke="#e4e8ed" stroke-width=".5"/><path d="M430.10 375.50V535.02" stroke="#e4e8ed" stroke-width=".5"/><path d="M470.00 375.50V535.02" stroke="#e4e8ed" stroke-width=".5"/><path d="M29.10 376.00H470.00" stroke="#e4e8ed" stroke-width=".5"/><path d="M29.10 402.17H470.00" stroke="#e4e8ed" stroke-width=".5"/><path d="M29.10 428.34H470.00" stroke="#e4e8ed" stroke-width=".5"/><path d="M29.10 454.51H470.00" stroke="#e4e8ed" stroke-width=".5"/><path d="M29.10 480.68H470.00" stroke="#e4e8ed" stroke-width=".5"/><path d="M29.10 506.85H470.00" stroke="#e4e8ed" stroke-width=".5"/><path d="M29.10 533.02H470.00" stroke="#e4e8ed" stroke-width=".5"/><path d="M31.10,517.32 C47.06,523.60 57.41,533.02 71.00,533.02 C89.33,527.01 100.63,511.36 110.90,491.15 C132.55,448.56 134.84,376.00 150.80,376.00 C166.76,376.00 167.40,451.41 190.70,491.15 C199.32,505.84 218.10,517.82 230.60,512.08 C250.02,503.17 253.02,457.95 270.50,454.51 C284.94,451.67 292.46,482.26 310.40,496.38 C324.38,507.38 333.64,515.13 350.30,517.32 C365.56,519.32 374.24,511.04 390.20,506.85 C406.16,502.66 414.84,494.38 430.10,496.38 C446.76,498.57 454.04,508.94 470.00,517.32 L470.00,533.02 L31.10,533.02Z" fill="#2196f3" fill-opacity=".205"/><path d="M31.10,517.32 C47.06,523.60 57.41,533.02 71.00,533.02 C89.33,527.01 100.63,511.36 110.90,491.15 C132.55,448.56 134.84,376.00 150.80,376.00 C166.76,376.00 167.40,451.41 190.70,491.15 C199.32,505.84 218.10,517.82 230.60,512.08 C250.02,503.17 253.02,457.95 270.50,454.51 C284.94,451.67 292.46,482.26 310.40,496.38 C324.38,507.38 333.64,515.13 350.30,517.32 C365.56,519.32 374.24,511.04 390.20,506.85 C406.16,502.66 414.84,494.38 430.10,496.38 C446.76,498.57 454.04,508.94 470.00,517.32" fill="none" stroke="#2f94ec" stroke-width="1.150"/><circle cx="31.10" cy="517.32" r="1.950" fill="#f8fbfe" stroke="#2f94ec" stroke-width="1.000"/><circle cx="71.00" cy="533.02" r="1.950" fill="#f8fbfe" stroke="#2f94ec" stroke-width="1.000"/><circle cx="110.90" cy="491.15" r="1.950" fill="#f8fbfe" stroke="#2f94ec" stroke-width="1.000"/><circle cx="150.80" cy="376.00" r="1.950" fill="#f8fbfe" stroke="#2f94ec" stroke-width="1.000"/><circle cx="190.70" cy="491.15" r="1.950" fill="#f8fbfe" stroke="#2f94ec" stroke-width="1.000"/><circle cx="230.60" cy="512.08" r="1.950" fill="#f8fbfe" stroke="#2f94ec" stroke-width="1.000"/><circle cx="270.50" cy="454.51" r="1.950" fill="#f8fbfe" stroke="#2f94ec" stroke-width="1.000"/><circle cx="310.40" cy="496.38" r="1.950" fill="#f8fbfe" stroke="#2f94ec" stroke-width="1.000"/><circle cx="350.30" cy="517.32" r="1.950" fill="#f8fbfe" stroke="#2f94ec" stroke-width="1.000"/><circle cx="390.20" cy="506.85" r="1.950" fill="#f8fbfe" stroke="#2f94ec" stroke-width="1.000"/><circle cx="430.10" cy="496.38" r="1.950" fill="#f8fbfe" stroke="#2f94ec" stroke-width="1.000"/><circle cx="470.00" cy="517.32" r="1.950" fill="#f8fbfe" stroke="#2f94ec" stroke-width="1.000"/><rect x="228.400" y="366.300" width="18" height="5.400" fill="#cfe5f8" stroke="#3d9be9" stroke-width=".9"/></svg>
<span class="t " id="t92" style="top:730.97px;font-size:10.20px;line-height:13.26px;color:#666d78;left:497.20px;transform-origin:0 50%;transform:scaleX(0.9888);">Sales</span>
<span class="t " id="t93" style="top:744.44px;font-size:10.40px;line-height:13.52px;color:#666d78;right:1592.40px;transform-origin:100% 50%;transform:scaleX(0.8822);">35</span>
<span class="t " id="t94" style="top:796.78px;font-size:10.40px;line-height:13.52px;color:#666d78;right:1592.40px;transform-origin:100% 50%;transform:scaleX(0.8822);">30</span>
<span class="t " id="t95" style="top:849.12px;font-size:10.40px;line-height:13.52px;color:#666d78;right:1592.40px;transform-origin:100% 50%;transform:scaleX(0.8822);">25</span>
<span class="t " id="t96" style="top:901.46px;font-size:10.40px;line-height:13.52px;color:#666d78;right:1592.40px;transform-origin:100% 50%;transform:scaleX(0.8822);">20</span>
<span class="t " id="t97" style="top:953.80px;font-size:10.40px;line-height:13.52px;color:#666d78;right:1592.40px;transform-origin:100% 50%;transform:scaleX(0.8822);">15</span>
<span class="t " id="t98" style="top:1006.14px;font-size:10.40px;line-height:13.52px;color:#666d78;right:1592.40px;transform-origin:100% 50%;transform:scaleX(0.8822);">10</span>
<span class="t " id="t99" style="top:1058.48px;font-size:10.40px;line-height:13.52px;color:#666d78;right:1592.40px;transform-origin:100% 50%;transform:scaleX(0.8995);">5</span>
<span class="t " id="t100" style="top:1071.71px;font-size:10.60px;line-height:13.78px;color:#666d78;left:62.20px;transform:translateX(-50%) scaleX(1.0000);">Jan</span>
<span class="t " id="t101" style="top:1071.71px;font-size:10.60px;line-height:13.78px;color:#666d78;left:142px;transform:translateX(-50%) scaleX(1.0000);">Feb</span>
<span class="t " id="t102" style="top:1071.71px;font-size:10.60px;line-height:13.78px;color:#666d78;left:221.80px;transform:translateX(-50%) scaleX(1.0000);">Mar</span>
<span class="t " id="t103" style="top:1071.71px;font-size:10.60px;line-height:13.78px;color:#666d78;left:301.60px;transform:translateX(-50%) scaleX(1.0000);">Apr</span>
<span class="t " id="t104" style="top:1071.71px;font-size:10.60px;line-height:13.78px;color:#666d78;left:381.40px;transform:translateX(-50%) scaleX(1.0000);">May</span>
<span class="t " id="t105" style="top:1071.71px;font-size:10.60px;line-height:13.78px;color:#666d78;left:461.20px;transform:translateX(-50%) scaleX(1.0000);">Jun</span>
<span class="t " id="t106" style="top:1071.71px;font-size:10.60px;line-height:13.78px;color:#666d78;left:541px;transform:translateX(-50%) scaleX(1.0000);">Jul</span>
<span class="t " id="t107" style="top:1071.71px;font-size:10.60px;line-height:13.78px;color:#666d78;left:620.80px;transform:translateX(-50%) scaleX(1.0000);">Aug</span>
<span class="t " id="t108" style="top:1071.71px;font-size:10.60px;line-height:13.78px;color:#666d78;left:700.60px;transform:translateX(-50%) scaleX(1.0000);">Sep</span>
<span class="t " id="t109" style="top:1071.71px;font-size:10.60px;line-height:13.78px;color:#666d78;left:780.40px;transform:translateX(-50%) scaleX(1.0000);">Oct</span>
<span class="t " id="t110" style="top:1071.71px;font-size:10.60px;line-height:13.78px;color:#666d78;left:860.20px;transform:translateX(-50%) scaleX(1.0000);">Nov</span>
<span class="t " id="t111" style="top:1071.71px;font-size:10.60px;line-height:13.78px;color:#666d78;left:940px;transform:translateX(-50%) scaleX(1.0000);">Dec</span>
<span class="t " id="t112" style="top:724.70px;font-size:14px;line-height:18.20px;color:#2f3744;-webkit-text-stroke:0.10px #2f3744;right:205.60px;transform-origin:100% 50%;transform:scaleX(0.9673);">Sales Statistical Overview</span>
<span class="t " id="t113" style="top:755.98px;font-size:10.80px;line-height:14.04px;color:#98a0ae;right:205.60px;transform-origin:100% 50%;transform:scaleX(1.0076);">Sale information on advertising, exhibitions, market research, online media, customer</span>
<span class="t " id="t114" style="top:773.38px;font-size:10.80px;line-height:14.04px;color:#98a0ae;right:205.60px;transform-origin:100% 50%;transform:scaleX(0.9729);">desires, PR and much more</span>
<span class="t " id="t115" style="top:804.98px;font-size:10.80px;line-height:14.04px;color:#3d4553;left:1308px;transform-origin:0 50%;transform:scaleX(0.9935);">more than last week</span>
<span class="t " id="t116" style="top:804.98px;font-size:10.80px;line-height:14.04px;color:#22b16a;left:1407.60px;transform-origin:0 50%;transform:scaleX(0.9618);">15%</span>
<svg class="b" style="left:1429.20px;top:807.80px;width:8.40px;height:8.40px;" viewBox="0 0 10 10"><circle cx="5" cy="5" r="4.100" fill="none" stroke="#22b16a" stroke-width="1.400"/><path d="M5 2.500V7.500M3 5.500l2 2 2-2" stroke="#22b16a" stroke-width="1.200" fill="none"/></svg>
<div class="b " style="left:1284.60px;top:835.40px;width:81.60px;height:23.80px;background:#fff;border-radius:12px;box-shadow:0 0 0 .5px #e3e7ec;"></div>
<span class="t " id="t117" style="top:840.25px;font-size:11px;line-height:14.30px;color:#2f3744;left:1325.40px;transform:translateX(-50%) scaleX(0.9972);">See detail</span>
<div class="b " style="left:1369.80px;top:835.40px;width:70.60px;height:23.80px;background:#22b16a;border-radius:12px;"></div>
<span class="t " id="t118" style="top:840.25px;font-size:11px;line-height:14.30px;color:#fff;-webkit-text-stroke:0.08px #fff;left:1405.20px;transform:translateX(-50%) scaleX(1.0483);">Update</span>
<span class="t " id="t119" style="top:1145.11px;font-size:14.60px;line-height:18.98px;color:#2f3744;-webkit-text-stroke:0.08px #2f3744;right:1183.40px;transform-origin:100% 50%;transform:scaleX(0.9246);">Friends</span>
<div class="b " style="left:428.10px;top:1177.70px;width:21px;height:21px;background:#e91e63;border-radius:10.50px;"></div>
<span class="t " id="t120" style="top:1183.33px;font-size:7.80px;line-height:10.14px;color:#fff;font-weight:700;left:438.60px;transform:translateX(-50%) scaleX(1.0000);">AS</span>
<span class="t " id="t121" style="top:1179.93px;font-size:11.80px;line-height:15.34px;color:#3f4856;right:1231.60px;transform-origin:100% 50%;transform:scaleX(0.9461);">Airi Satou</span>
<svg class="b" style="left:47.60px;top:1182.40px;width:2.80px;height:10px;" viewBox="0 0 1.4 5"><rect x=".2" y=".1" width="1" height="1.400" rx=".4" fill="#828b99"/><rect x=".2" y="1.800" width="1" height="1.400" rx=".4" fill="#828b99"/><rect x=".2" y="3.500" width="1" height="1.400" rx=".4" fill="#828b99"/></svg>
<div class="b " style="left:67px;top:1208.20px;width:347.40px;height:1.20px;background:#f8fafc;"></div>
<svg class="b" style="left:428.10px;top:1218.80px;width:21px;height:21px;" viewBox="0 0 20 20"><defs><clipPath id="c21936146"><circle cx="10" cy="10" r="10"/></clipPath></defs><g clip-path="url(#c21936146)"><rect width="20" height="20" fill="#242426"/><path d="M1 12C2 7 6 4.500 10 5.500c3 .8 5 3 5.500 6 .3 2.500-1.500 4.500-4.500 5-4 .600-8-.500-10-4.500z" fill="#b9b9b9"/><ellipse cx="6" cy="12.500" rx="3.600" ry="2.400" fill="#f3f3f3"/><path d="M4 4.500C7 2 13 1.500 16.500 5c-3-.800-6-.500-8 1.200C7 5 5.500 4.600 4 4.500z" fill="#e8e8e8"/><path d="M9 8c2-1.500 4.500-1 6 1-1.500 0-2.500.5-3.500 2C11 9.500 10 8.500 9 8z" fill="#2a2a2a"/><path d="M6 18.500c3-1 8-1.500 12-4.500v6H6z" fill="#111"/></g></svg>
<span class="t " id="t122" style="top:1221.03px;font-size:11.80px;line-height:15.34px;color:#3f4856;right:1231.60px;transform-origin:100% 50%;transform:scaleX(0.9223);">Kygo</span>
<svg class="b" style="left:47.60px;top:1223.50px;width:2.80px;height:10px;" viewBox="0 0 1.4 5"><rect x=".2" y=".1" width="1" height="1.400" rx=".4" fill="#828b99"/><rect x=".2" y="1.800" width="1" height="1.400" rx=".4" fill="#828b99"/><rect x=".2" y="3.500" width="1" height="1.400" rx=".4" fill="#828b99"/></svg>
<div class="b " style="left:67px;top:1249.30px;width:347.40px;height:1.20px;background:#f8fafc;"></div>
<div class="b " style="left:428.10px;top:1259.90px;width:21px;height:21px;background:#2594ec;border-radius:10.50px;"></div>
<span class="t " id="t123" style="top:1265.53px;font-size:7.80px;line-height:10.14px;color:#fff;font-weight:700;left:438.60px;transform:translateX(-50%) scaleX(1.0000);">TN</span>
<span class="t " id="t124" style="top:1262.13px;font-size:11.80px;line-height:15.34px;color:#3f4856;right:1231.60px;transform-origin:100% 50%;transform:scaleX(0.9951);">Tiger Nixon</span>
<svg class="b" style="left:47.60px;top:1264.60px;width:2.80px;height:10px;" viewBox="0 0 1.4 5"><rect x=".2" y=".1" width="1" height="1.400" rx=".4" fill="#828b99"/><rect x=".2" y="1.800" width="1" height="1.400" rx=".4" fill="#828b99"/><rect x=".2" y="3.500" width="1" height="1.400" rx=".4" fill="#828b99"/></svg>
<div class="b " style="left:67px;top:1290.40px;width:347.40px;height:1.20px;background:#f8fafc;"></div>
<svg class="b" style="left:428.10px;top:1301px;width:21px;height:21px;" viewBox="0 0 20 20"><defs><clipPath id="c21936557"><circle cx="10" cy="10" r="10"/></clipPath></defs><g clip-path="url(#c21936557)"><rect width="20" height="20" fill="#eee6e0"/><path d="M3 20c0-3.500 3-4.800 8-4.800s7.500 1.300 7.500 4.800z" fill="#26262a"/><ellipse cx="11" cy="9.500" rx="4.500" ry="5.600" fill="#ddb095"/><path d="M6.300 8.500c-.700-4.600 2-6.600 4.900-6.600 3.300 0 5.300 2.400 4.600 6.600-.8-2.300-2.100-3.100-4.700-3.100S7 6.200 6.300 8.500z" fill="#3f2c22"/><path d="M7.200 11.500c1.100 3.200 6.300 3.200 7.400 0-.5 3.600-1.900 4.700-3.700 4.700S7.700 15.100 7.200 11.500z" fill="#5d4032"/></g></svg>
<span class="t " id="t125" style="top:1303.23px;font-size:11.80px;line-height:15.34px;color:#3f4856;right:1231.60px;transform-origin:100% 50%;transform:scaleX(0.9380);">Rita Ora</span>
<svg class="b" style="left:47.60px;top:1305.70px;width:2.80px;height:10px;" viewBox="0 0 1.4 5"><rect x=".2" y=".1" width="1" height="1.400" rx=".4" fill="#828b99"/><rect x=".2" y="1.800" width="1" height="1.400" rx=".4" fill="#828b99"/><rect x=".2" y="3.500" width="1" height="1.400" rx=".4" fill="#828b99"/></svg>
<div class="b " style="left:67px;top:1331.50px;width:347.40px;height:1.20px;background:#f8fafc;"></div>
<svg class="b" style="left:428.10px;top:1342.10px;width:21px;height:21px;" viewBox="0 0 20 20"><defs><clipPath id="c21936763"><circle cx="10" cy="10" r="10"/></clipPath></defs><g clip-path="url(#c21936763)"><rect width="20" height="20" fill="#f6f7f8"/><path d="M4 20c0-4 2.500-6 6-6s6 2 6 6z" fill="#20242c"/><ellipse cx="10.500" cy="8" rx="3.200" ry="4.200" fill="#d9a98c"/><path d="M7 7c-.5-3.500 1.500-5 3.500-5 2.500 0 4 1.700 3.500 5-.5-1.800-1.500-2.500-3.500-2.500S7.500 5.200 7 7z" fill="#2a2020"/><path d="M9.300 14l1.200 4 1.200-4z" fill="#fff"/></g></svg>
<span class="t " id="t126" style="top:1344.33px;font-size:11.80px;line-height:15.34px;color:#3f4856;right:1231.60px;transform-origin:100% 50%;transform:scaleX(0.9519);">Radionomy</span>
<svg class="b" style="left:47.60px;top:1346.80px;width:2.80px;height:10px;" viewBox="0 0 1.4 5"><rect x=".2" y=".1" width="1" height="1.400" rx=".4" fill="#828b99"/><rect x=".2" y="1.800" width="1" height="1.400" rx=".4" fill="#828b99"/><rect x=".2" y="3.500" width="1" height="1.400" rx=".4" fill="#828b99"/></svg>
<div class="b " style="left:67px;top:1372.60px;width:347.40px;height:1.20px;background:#f8fafc;"></div>
<span class="t " id="t127" style="top:1143.91px;font-size:14.60px;line-height:18.98px;color:#2f3744;-webkit-text-stroke:0.08px #2f3744;right:694px;transform-origin:100% 50%;transform:scaleX(0.8630);">Tasks</span>
<div class="b " style="left:946.90px;top:1188px;width:1px;height:180px;background:#e6eaee;"></div>
<svg class="b" style="left:941.40px;top:1177.80px;width:12px;height:12px;" viewBox="0 0 6 6"><circle cx="3" cy="3" r="1.65" fill="#f9fafc" stroke="#dde1e6" stroke-width="0.6"/></svg>
<span class="t " id="t128" style="top:1177.30px;font-size:10px;line-height:13px;color:#a3abb8;right:715px;transform-origin:100% 50%;transform:scaleX(0.8963);">July 21</span>
<span class="t " id="t129" style="top:1193.92px;font-size:11.20px;line-height:14.56px;color:#3d4553;right:715px;transform-origin:100% 50%;transform:scaleX(0.9830);"><b>Summerella</b> Submit a support ticket</span>
<div class="b " style="left:946.90px;top:1236.60px;width:1px;height:40px;background:#1aa890;"></div>
<svg class="b" style="left:941.40px;top:1226.60px;width:12px;height:12px;" viewBox="0 0 6 6"><circle cx="3" cy="3" r="1.55" fill="#f9fafc" stroke="#1aa890" stroke-width="1.1"/></svg>
<span class="t " id="t130" style="top:1226.10px;font-size:10px;line-height:13px;color:#a3abb8;right:715px;transform-origin:100% 50%;transform:scaleX(0.8949);">08:05</span>
<span class="t " id="t131" style="top:1242.72px;font-size:11.20px;line-height:14.56px;color:#3d4553;right:715px;transform-origin:100% 50%;transform:scaleX(0.9813);"><b>Kygo</b> Added you to repo</span>
<svg class="b" style="left:941.40px;top:1275.40px;width:12px;height:12px;" viewBox="0 0 6 6"><circle cx="3" cy="3" r="1.65" fill="#f9fafc" stroke="#dde1e6" stroke-width="0.6"/></svg>
<span class="t " id="t132" style="top:1274.90px;font-size:10px;line-height:13px;color:#a3abb8;right:715px;transform-origin:100% 50%;transform:scaleX(0.8949);">09:05</span>
<span class="t " id="t133" style="top:1291.52px;font-size:11.20px;line-height:14.56px;color:#3d4553;right:715px;transform-origin:100% 50%;transform:scaleX(0.9572);"><b>Jeremy Scott</b> Assign you a task</span>
<div class="b " style="left:946.90px;top:1334.20px;width:1px;height:40px;background:#448bff;"></div>
<svg class="b" style="left:941.40px;top:1324.20px;width:12px;height:12px;" viewBox="0 0 6 6"><circle cx="3" cy="3" r="1.55" fill="#f9fafc" stroke="#448bff" stroke-width="1.1"/></svg>
<span class="t " id="t134" style="top:1323.70px;font-size:10px;line-height:13px;color:#a3abb8;right:715px;transform-origin:100% 50%;transform:scaleX(0.8949);">09:50</span>
<span class="t " id="t135" style="top:1340.32px;font-size:11.20px;line-height:14.56px;color:#3d4553;right:715px;transform-origin:100% 50%;transform:scaleX(0.9660);"><b>Radionomy</b> Was added to Repo</span>
<div class="b " style="left:1006.40px;top:1144.40px;width:12.40px;height:12.20px;background:#22b16a;border-radius:2.60px;"></div>
<span class="t " id="t136" style="top:1145.66px;font-size:7.60px;line-height:9.88px;color:#fff;font-weight:700;left:1012.60px;transform:translateX(-50%) scaleX(1.0000);">5</span>
<span class="t " id="t137" style="top:1144.11px;font-size:14.60px;line-height:18.98px;color:#2f3744;-webkit-text-stroke:0.08px #2f3744;right:205.80px;transform-origin:100% 50%;transform:scaleX(0.9823);">Activity</span>
<div class="b " style="left:1435.70px;top:1188px;width:1px;height:180px;background:#e6eaee;"></div>
<div class="b " style="left:1425.20px;top:1173.80px;width:22px;height:22px;background:#fff;border-radius:11px;"></div>
<svg class="b" style="left:1426.20px;top:1174.80px;width:20px;height:20px;" viewBox="0 0 20 20"><defs><clipPath id="c71815924"><circle cx="10" cy="10" r="10"/></clipPath></defs><g clip-path="url(#c71815924)"><rect width="20" height="20" fill="#d6e4ee"/><path d="M2.500 20c0-4 3-5.800 7.500-5.800s7.500 1.800 7.500 5.800z" fill="#eef1f3"/><ellipse cx="10" cy="8.800" rx="3.900" ry="4.900" fill="#d7ab90"/><path d="M5.800 8C5.300 4 7.500 2.200 10 2.200c2.800 0 4.700 1.800 4.200 5.800-.6-2.200-1.700-3-4.200-3S6.400 5.800 5.800 8z" fill="#3a3030"/><path d="M7.200 11.500c1 2.400 4.600 2.400 5.600 0-.4 2.600-1.400 3.300-2.800 3.300s-2.400-.7-2.800-3.300z" fill="#4a3a34"/></g></svg>
<span class="t " id="t138" style="top:1177.70px;font-size:10px;line-height:13px;color:#a3abb8;right:236px;transform-origin:100% 50%;transform:scaleX(0.8789);">15:08</span>
<span class="t " id="t139" style="top:1193.92px;font-size:11.20px;line-height:14.56px;color:#3d4553;right:236px;transform-origin:100% 50%;transform:scaleX(0.9831);"><b>Pablo Nouvelle</b> Added API call to update track element</span>
<div class="b " style="left:1425.20px;top:1222.60px;width:22px;height:22px;background:#fff;border-radius:11px;"></div>
<svg class="b" style="left:1426.20px;top:1223.60px;width:20px;height:20px;" viewBox="0 0 20 20"><defs><clipPath id="c71816168"><circle cx="10" cy="10" r="10"/></clipPath></defs><g clip-path="url(#c71816168)"><rect width="20" height="20" fill="#f6f7f8"/><path d="M4 20c0-4 2.500-6 6-6s6 2 6 6z" fill="#20242c"/><ellipse cx="10.500" cy="8" rx="3.200" ry="4.200" fill="#d9a98c"/><path d="M7 7c-.5-3.500 1.500-5 3.500-5 2.500 0 4 1.700 3.500 5-.5-1.800-1.500-2.500-3.500-2.500S7.500 5.200 7 7z" fill="#2a2020"/><path d="M9.300 14l1.200 4 1.200-4z" fill="#fff"/></g></svg>
<span class="t " id="t140" style="top:1226.50px;font-size:10px;line-height:13px;color:#a3abb8;right:236px;transform-origin:100% 50%;transform:scaleX(0.8789);">09:58</span>
<span class="t " id="t141" style="top:1242.72px;font-size:11.20px;line-height:14.56px;color:#3d4553;right:236px;transform-origin:100% 50%;transform:scaleX(0.9648);"><b>Radionomy</b> Was added to Repo</span>
<div class="b " style="left:1425.20px;top:1271.40px;width:22px;height:22px;background:#fff;border-radius:11px;"></div>
<svg class="b" style="left:1426.20px;top:1272.40px;width:20px;height:20px;" viewBox="0 0 20 20"><defs><clipPath id="c71816411"><circle cx="10" cy="10" r="10"/></clipPath></defs><g clip-path="url(#c71816411)"><rect width="20" height="20" fill="#b9a79c"/><path d="M2 20c0-4 3-5.500 8-5.500s8 1.500 8 5.500z" fill="#e9e6e2"/><path d="M4.500 12C3 5 6 2 10 2s7 3 5.500 10c-.5 2-2 3-5.500 3s-5-1-5.500-3z" fill="#4a2f26"/><ellipse cx="10.300" cy="9.200" rx="3.300" ry="4.300" fill="#e3b89d"/></g></svg>
<span class="t " id="t142" style="top:1275.30px;font-size:10px;line-height:13px;color:#a3abb8;right:236px;transform-origin:100% 50%;transform:scaleX(0.8789);">12:05</span>
<span class="t " id="t143" style="top:1291.52px;font-size:11.20px;line-height:14.56px;color:#3d4553;right:236px;transform-origin:100% 50%;transform:scaleX(0.9691);"><b>Judith Garcia</b> Follow up to close deal</span>
<div class="b " style="left:1425.20px;top:1320.20px;width:22px;height:22px;background:#fff;border-radius:11px;"></div>
<svg class="b" style="left:1426.20px;top:1321.20px;width:20px;height:20px;" viewBox="0 0 20 20"><defs><clipPath id="c71816655"><circle cx="10" cy="10" r="10"/></clipPath></defs><g clip-path="url(#c71816655)"><rect width="20" height="20" fill="#f0f0f0"/><path d="M3.500 20c0-3.500 2.500-5 6.500-5s6.500 1.500 6.500 5z" fill="#3a3a3a"/><ellipse cx="10" cy="8.500" rx="3.600" ry="4.600" fill="#d0d0d0"/><path d="M6 8C5.500 4 7.600 2.200 10 2.200S14.500 4 14 8c-.6-2-1.600-2.800-4-2.800S6.600 6 6 8z" fill="#1c1c1c"/><path d="M7 9h6v1.200H7z" fill="#333"/></g></svg>
<span class="t " id="t144" style="top:1324.10px;font-size:10px;line-height:13px;color:#a3abb8;right:236px;transform-origin:100% 50%;transform:scaleX(0.8836);">July 21</span>
<span class="t " id="t145" style="top:1340.32px;font-size:11.20px;line-height:14.56px;color:#3d4553;right:236px;transform-origin:100% 50%;transform:scaleX(0.9785);"><b>Summerella</b> Submit a support ticket</span>
</div></body></html>
